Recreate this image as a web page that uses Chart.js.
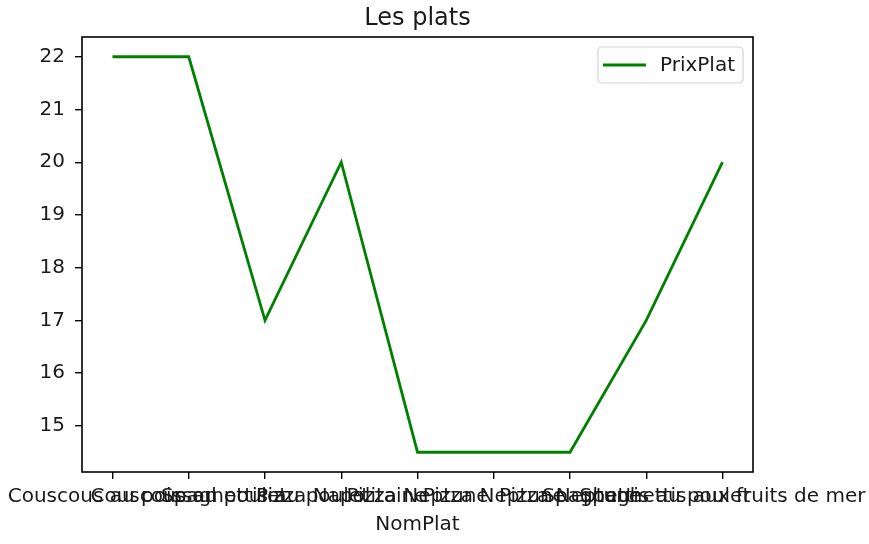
<!DOCTYPE html>
<html>
<head>
<meta charset="utf-8">
<script src="https://cdn.jsdelivr.net/npm/chart.js@4.4.1/dist/chart.umd.min.js"></script>
<style>
  html, body { margin: 0; background: #fff; }
  #wrap { width: 869px; height: 544px; }
</style>
</head>
<body>
<div id="wrap"><canvas id="chart"></canvas></div>
<script>
// --- data ---
const nomPlat = [
  'Couscous au poisson',
  'Couscous au poulet',
  'Spaghettis au poulet',
  'Pizza Napolitaine',
  'Pizza Neptune',
  'Pizza Neptune',
  'Pizza Neptune',
  'Spaghettis au poulet',
  'Spaghettis aux fruits de mer'
];
const prixPlat = [22, 22, 17, 20, 14.5, 14.5, 14.5, 17, 20];
const yTicks = [15, 16, 17, 18, 19, 20, 21, 22];

const FONT = 'DejaVu Sans';
const TXT = '#1a1a1a';
const LINE = '#008000';

// axes frame (four spines) and a matplotlib-like legend inside the plot
const framePlugin = {
  id: 'frame',
  afterDraw(chart) {
    const a = chart.chartArea, ctx = chart.ctx;
    ctx.save();
    ctx.strokeStyle = '#000';
    ctx.lineWidth = 1.6;
    ctx.strokeRect(a.left, a.top, a.right - a.left, a.bottom - a.top);

    // legend box
    const ds = chart.data.datasets[0];
    ctx.font = `20px "${FONT}"`;
    const tw = ctx.measureText(ds.label).width;
    const w = 5 + 43 + 14 + tw + 8, h = 36;
    const x = a.right - 10 - w, y = a.top + 10;
    ctx.beginPath();
    ctx.roundRect(x, y, w, h, 4);
    ctx.fillStyle = 'rgba(255,255,255,0.8)';
    ctx.fill();
    ctx.strokeStyle = '#d4d4d4';
    ctx.lineWidth = 1.2;
    ctx.stroke();
    ctx.beginPath();
    ctx.moveTo(x + 5, y + h / 2);
    ctx.lineTo(x + 48, y + h / 2);
    ctx.strokeStyle = ds.borderColor;
    ctx.lineWidth = ds.borderWidth;
    ctx.stroke();
    ctx.fillStyle = TXT;
    ctx.textBaseline = 'middle';
    ctx.fillText(ds.label, x + 62, y + h / 2 + 1);
    ctx.restore();
  }
};

new Chart(document.getElementById('chart'), {
  type: 'line',
  data: {
    datasets: [{
      label: 'PrixPlat',
      data: prixPlat.map((v, i) => ({ x: i, y: v })),
      borderColor: LINE,
      borderWidth: 2.8,
      pointRadius: 0,
      tension: 0,
      fill: false
    }]
  },
  options: {
    responsive: true, maintainAspectRatio: false, animation: false,
    layout: { padding: { left: 34, right: 116, top: 0, bottom: 0 } },
    plugins: {
      title: {
        display: true, text: 'Les plats', fullSize: false,
        color: TXT, font: { family: FONT, size: 24, weight: 'normal' },
        padding: { top: 4, bottom: 4.2 }
      },
      legend: { display: false },
      tooltip: { enabled: false }
    },
    scales: {
      x: {
        type: 'linear', min: -0.4, max: 8.4,
        afterBuildTicks: s => { s.ticks = nomPlat.map((_, i) => ({ value: i })); },
        afterFit: s => { s.height = 72; s.paddingLeft = 0; s.paddingRight = 0; },
        ticks: {
          autoSkip: false, maxRotation: 0, minRotation: 0, padding: 6,
          color: TXT, font: { family: FONT, size: 20 },
          callback: v => nomPlat[v] ?? ''
        },
        grid: { drawOnChartArea: false, drawTicks: true, tickLength: 7, color: '#000', lineWidth: 1.4 },
        border: { display: false },
        title: {
          display: true, text: 'NomPlat', color: TXT,
          font: { family: FONT, size: 20 }, padding: { top: 0, bottom: 7.5 }
        }
      },
      y: {
        min: 14.125, max: 22.375,
        afterBuildTicks: s => { s.ticks = yTicks.map(v => ({ value: v })); },
        afterFit: s => { s.width = 48; },
        ticks: { padding: 10, color: TXT, font: { family: FONT, size: 20 } },
        grid: { drawOnChartArea: false, drawTicks: true, tickLength: 7, color: '#000', lineWidth: 1.4 },
        border: { display: false }
      }
    }
  },
  plugins: [framePlugin]
});
</script>
</body>
</html>
